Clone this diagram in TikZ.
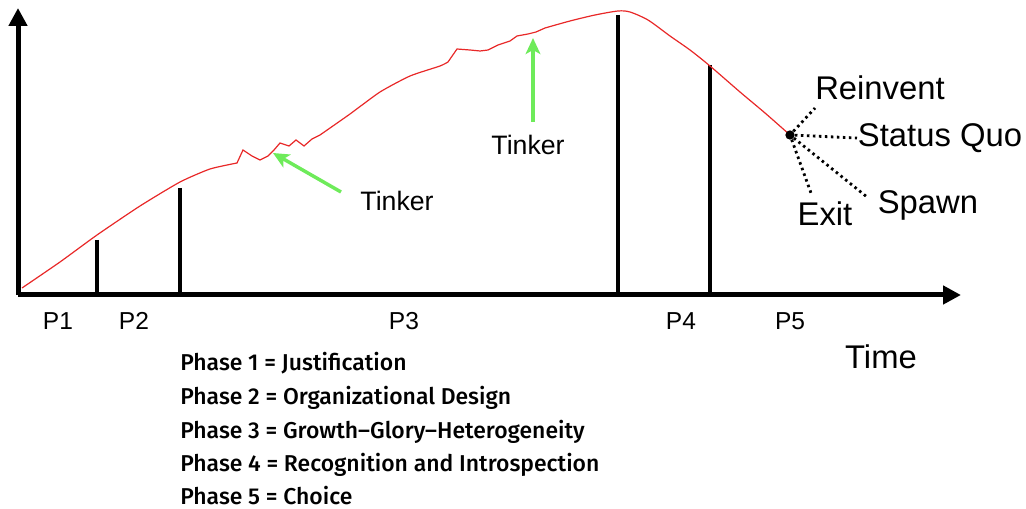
\documentclass[tikz,border=0pt]{standalone}
\usepackage{fontspec}
\setmainfont{Liberation Sans}
\newfontfamily\phasefont{Fira Sans}[UprightFont={* Medium}]
\usetikzlibrary{arrows.meta}
\definecolor{curvered}{RGB}{232,40,40}
\definecolor{tinkgreen}{RGB}{110,235,90}
\tikzset{
  axisline/.style={line width=3.75pt,-{Triangle[length=13.5pt,width=13.5pt]}},
  divider/.style={line width=2.3pt},
  greenarrow/.style={tinkgreen,line width=2.6pt,-{Stealth[length=12pt,width=11pt,inset=3pt]}},
  dotline/.style={line width=2.1pt,dash pattern=on 1.9pt off 2.6pt},
  lbl/.style={inner sep=0pt,font=\fontsize{20}{24}\selectfont},
  biglbl/.style={inner sep=0pt,font=\fontsize{24.6}{28}\selectfont},
  plbl/.style={inner sep=0pt,font=\fontsize{18.4}{22}\selectfont},
  phase/.style={inner sep=0pt,anchor=base west,font=\phasefont\fontsize{17.2}{20}\selectfont}
}
\begin{document}
\begin{tikzpicture}[x=0.75pt,y=-0.75pt]
\useasboundingbox (0,0) rectangle (1026,509);
% axes
\coordinate (O) at (18,295);
\coordinate (ytip) at (18,8);
\coordinate (xtip) at (961,295);
\draw[axisline] (O) -- (ytip);
\draw[axisline] (O) -- (xtip);
% dividers
\coordinate (d1t) at (97,240); \coordinate (d1b) at (97,295);
\coordinate (d2t) at (180,188); \coordinate (d2b) at (180,295);
\coordinate (d3t) at (618,15); \coordinate (d3b) at (618,295);
\coordinate (d4t) at (710,65); \coordinate (d4b) at (710,295);
\draw[divider] (d1t) -- (d1b);
\draw[divider] (d2t) -- (d2b);
\draw[divider] (d3t) -- (d3b);
\draw[divider] (d4t) -- (d4b);
% curve
\draw[curvered,line width=0.9pt] plot[smooth,tension=0.35] coordinates {
 (22,288) (60,262) (97,235) (140,206) (180,182) (210,169) (237,163)}
 -- (243,150) -- (252,156) -- (260,160) -- (268,156) -- (274,150) -- (280,143)
 -- (289,146) -- (296,140) -- (304,146) -- (312,139) -- (320,135)
 plot[smooth,tension=0.35] coordinates {(320,135) (350,114) (380,92) (410,76) (440,66) (448,62)}
 -- (457,49) -- (470,50) -- (480,51) -- (488,50) -- (498,45) -- (510,41) -- (517,36) -- (528,34) -- (536,32) -- (545,28)
 plot[smooth,tension=0.45] coordinates {(545,28) (570,21) (595,15) (618,11) (630,12) (648,20) (670,36) (690,50) (710,66) (740,92) (765,113) (790,135)};
% end dot
\node[circle,fill=black,inner sep=0pt,minimum size=7pt] (dot) at (790,135) {};
% labels
\node[biglbl] (reinv) at (880,88) {Reinvent};
\node[biglbl] (sq) at (940,138) {Status Quo};
\node[biglbl] (spawn) at (928,205) {Spawn};
\node[biglbl] (exit) at (825,214) {Exit};
\coordinate (eReinv) at (815,108);
\coordinate (eSq) at (857,138);
\coordinate (eSpawn) at (867,197);
\coordinate (eExit) at (811,193);
\draw[dotline] (dot) -- (eReinv);
\draw[dotline] (dot) -- (eSq);
\draw[dotline] (dot) -- (eSpawn);
\draw[dotline] (dot) -- (eExit);
% tinker
\node[lbl] (t1) at (397,201) {Tinker};
\node[lbl] (t2) at (528,145) {Tinker};
\coordinate (g1s) at (341,192);
\coordinate (g1e) at (273,153);
\coordinate (g2s) at (533,122);
\coordinate (g2e) at (533,38);
\draw[greenarrow] (g1s) -- (g1e);
\draw[greenarrow] (g2s) -- (g2e);
% phase labels
\node[plbl] (p1) at (58,321) {P1};
\node[plbl] (p2) at (134,321) {P2};
\node[plbl] (p3) at (404,321) {P3};
\node[plbl] (p4) at (681,321) {P4};
\node[plbl] (p5) at (790,321) {P5};
\node[biglbl] (time) at (881,357) {Time};
% legend
\node[phase] (ph1) at (180,371) {Phase 1 = Justification};
\node[phase] (ph2) at (180,405) {Phase 2 = Organizational Design};
\node[phase] (ph3) at (180,439) {Phase 3 = Growth–Glory–Heterogeneity};
\node[phase] (ph4) at (180,472) {Phase 4 = Recognition and Introspection};
\node[phase] (ph5) at (180,505) {Phase 5 = Choice};
\end{tikzpicture}
\end{document}
